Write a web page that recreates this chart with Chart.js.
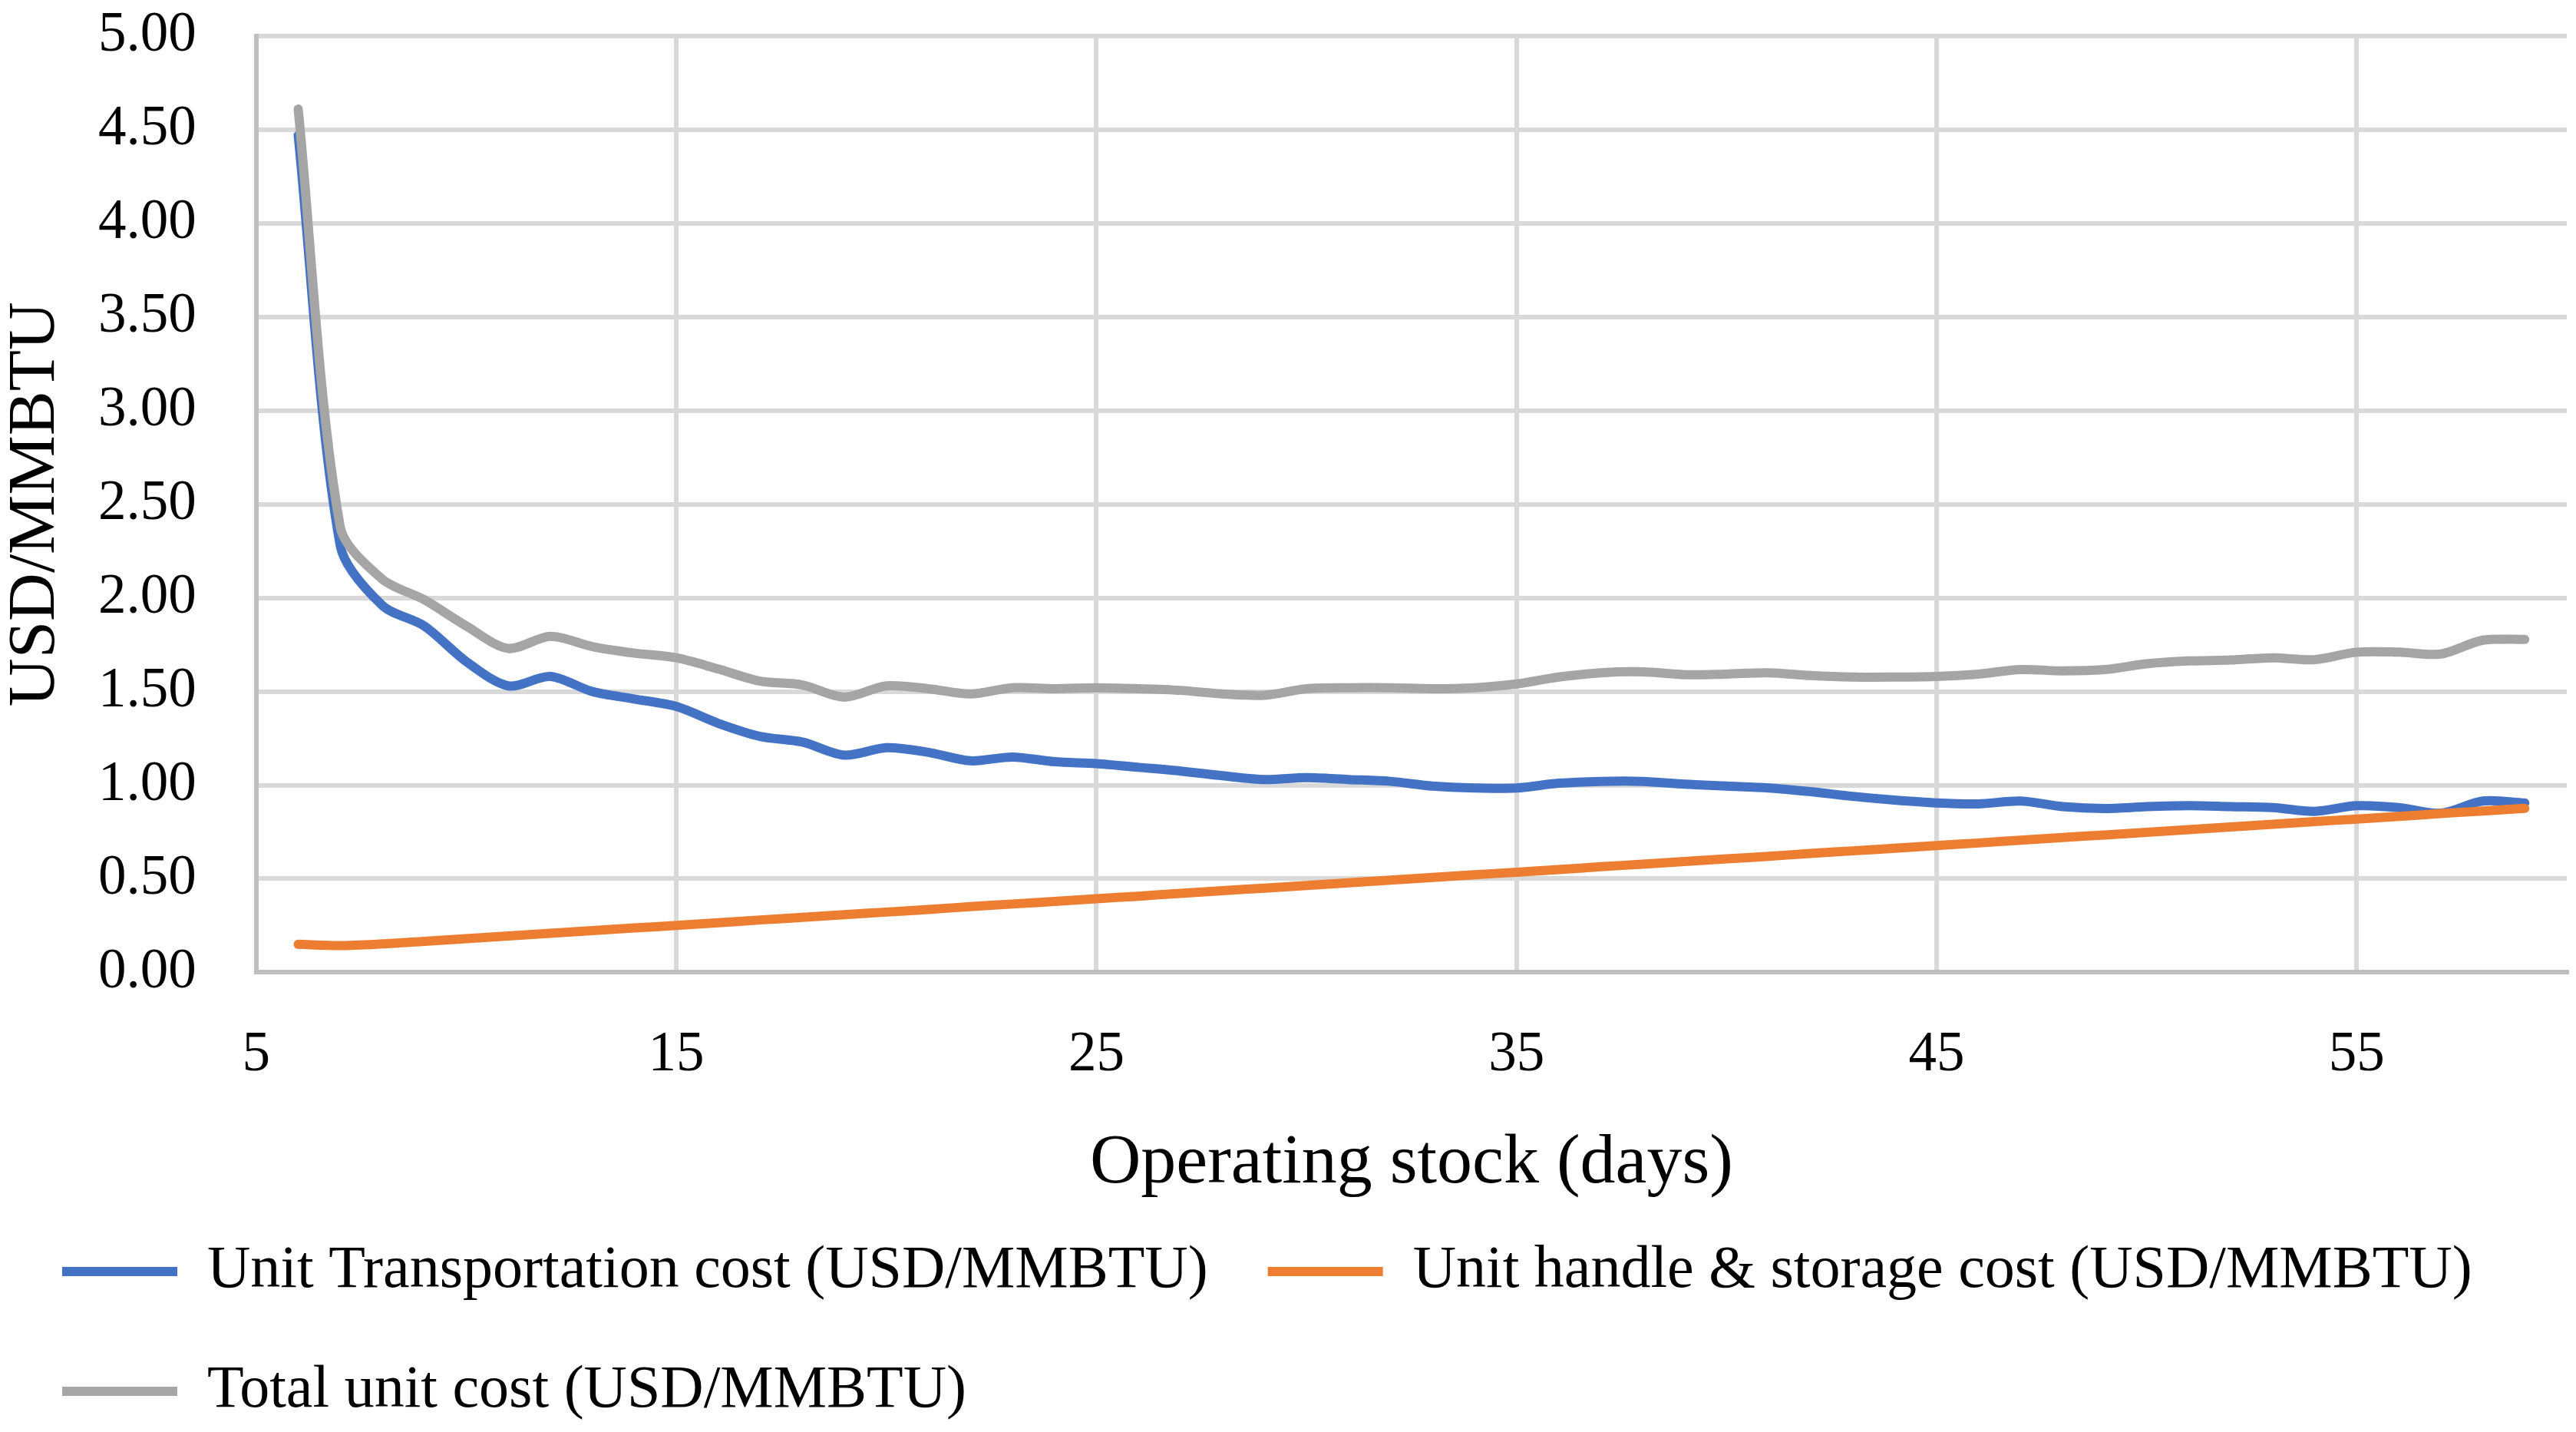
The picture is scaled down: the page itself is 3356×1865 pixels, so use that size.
<!DOCTYPE html>
<html>
<head>
<meta charset="utf-8">
<script src="https://cdn.jsdelivr.net/npm/chart.js@4"></script>
<style>
    body { margin: 0; background: #ffffff; }
    #wrap { width: 3356px; height: 1865px; }
</style>
</head>
<body>
<div id="wrap"><canvas id="costChart"></canvas></div>
<script>
const days = [6, 7, 8, 9, 10, 11, 12, 13, 14, 15, 16, 17, 18, 19, 20, 21, 22, 23, 24, 25, 26, 27, 28, 29, 30, 31, 32,
    33, 34, 35, 36, 37, 38, 39, 40, 41, 42, 43, 44, 45, 46, 47, 48, 49, 50, 51, 52, 53, 54, 55, 56, 57, 58, 59];

const transportCost = [4.47, 2.28, 1.96, 1.85, 1.66, 1.53, 1.58, 1.50, 1.46, 1.42, 1.33, 1.26, 1.23, 1.16, 1.20,
    1.175, 1.13, 1.15, 1.125, 1.115, 1.095, 1.075, 1.05, 1.03, 1.04, 1.03, 1.02, 0.995, 0.985, 0.985, 1.01, 1.02,
    1.02, 1.005, 0.995, 0.985, 0.965, 0.94, 0.92, 0.905, 0.90, 0.915, 0.885, 0.875, 0.885, 0.89, 0.885, 0.88,
    0.86, 0.89, 0.88, 0.85, 0.915, 0.905];

const handleStorageCost = [0.150, 0.143, 0.152, 0.166, 0.180, 0.194, 0.209, 0.223, 0.237, 0.251, 0.265, 0.280,
    0.294, 0.308, 0.322, 0.336, 0.351, 0.365, 0.379, 0.393, 0.407, 0.422, 0.436, 0.450, 0.464, 0.478, 0.493, 0.507,
    0.521, 0.535, 0.549, 0.564, 0.578, 0.592, 0.606, 0.620, 0.635, 0.649, 0.663, 0.677, 0.691, 0.706, 0.720, 0.734,
    0.748, 0.762, 0.777, 0.791, 0.805, 0.819, 0.833, 0.848, 0.862, 0.876];

const totalCost = [4.61, 2.38, 2.10, 1.99, 1.85, 1.73, 1.795, 1.74, 1.705, 1.68, 1.62, 1.555, 1.535, 1.47, 1.53,
    1.515, 1.487, 1.52, 1.515, 1.52, 1.515, 1.506, 1.487, 1.48, 1.515, 1.52, 1.52, 1.515, 1.52, 1.54, 1.577, 1.60,
    1.605, 1.59, 1.593, 1.60, 1.585, 1.577, 1.577, 1.58, 1.593, 1.617, 1.61, 1.617, 1.648, 1.663, 1.668, 1.68,
    1.67, 1.71, 1.71, 1.70, 1.774, 1.778];

const xTicks = [5, 15, 25, 35, 45, 55];
const seriesNames = [
    "Unit Transportation cost (USD/MMBTU)",
    "Unit handle & storage cost (USD/MMBTU)",
    "Total unit cost (USD/MMBTU)"
];

const serif = "'Palatino Linotype', 'Book Antiqua', Palatino, 'Liberation Serif', serif";

function points(values) {
    return days.map((d, i) => ({ x: d, y: values[i] }));
}

function lineSet(label, values, color, order) {
    return {
        label: label,
        data: points(values),
        borderColor: color,
        backgroundColor: color,
        borderWidth: 12,
        borderCapStyle: "round",
        borderJoinStyle: "round",
        pointRadius: 0,
        pointHoverRadius: 0,
        fill: false,
        tension: 0.3,
        order: order
    };
}

new Chart(
    document.getElementById("costChart"),
    {
        type: "line",

        data: {
            datasets: [
                lineSet(seriesNames[0], transportCost, "#4472C4", 2),
                lineSet(seriesNames[1], handleStorageCost, "#ED7D31", 1),
                lineSet(seriesNames[2], totalCost, "#A5A5A5", 0)
            ]
        },

        options: {
            responsive: true,
            maintainAspectRatio: false,
            animation: false,
            layout: {
                padding: { top: 47, left: 3, right: 12, bottom: 4 }
            },
            scales: {
                x: {
                    type: "linear",
                    min: 5,
                    max: 60,
                    afterBuildTicks: (axis) => {
                        axis.ticks = xTicks.map(v => ({ value: v }));
                    },
                    grid: {
                        color: (ctx) => ctx.tick && ctx.tick.value === 5 ? "#BFBFBF" : "#D9D9D9",
                        lineWidth: 6,
                        drawTicks: true,
                        tickLength: 65,
                        tickColor: "rgba(0,0,0,0)"
                    },
                    border: { color: "#BFBFBF", width: 6 },
                    ticks: {
                        padding: 0,
                        color: "#000000",
                        font: { family: serif, size: 73 }
                    },
                    title: {
                        display: true,
                        text: "Operating stock (days)",
                        color: "#000000",
                        font: { family: serif, size: 92, lineHeight: 0.5 },
                        padding: { top: 74, bottom: 0 }
                    }
                },
                y: {
                    min: 0,
                    max: 5,
                    grid: {
                        color: (ctx) => ctx.tick && ctx.tick.value === 0 ? "#BFBFBF" : "#D9D9D9",
                        lineWidth: 6,
                        drawTicks: true,
                        tickLength: 78,
                        tickColor: "rgba(0,0,0,0)"
                    },
                    border: { color: "#BFBFBF", width: 6 },
                    ticks: {
                        stepSize: 0.5,
                        padding: 0,
                        color: "#000000",
                        font: { family: serif, size: 73 },
                        callback: (v) => v.toFixed(2)
                    },
                    title: {
                        display: true,
                        text: "USD/MMBTU",
                        color: "#000000",
                        font: { family: serif, size: 87, lineHeight: 1 },
                        padding: { top: 1, bottom: 37 }
                    }
                }
            },
            plugins: {
                legend: {
                    position: "bottom",
                    align: "start",
                    labels: {
                        usePointStyle: true,
                        pointStyle: "line",
                        pointStyleWidth: 150,
                        padding: 78,
                        color: "#000000",
                        font: { family: serif, size: 78 },
                        sort: (a, b) => a.datasetIndex - b.datasetIndex
                    }
                },
                tooltip: { enabled: false }
            }
        }
    }
);
</script>
</body>
</html>
